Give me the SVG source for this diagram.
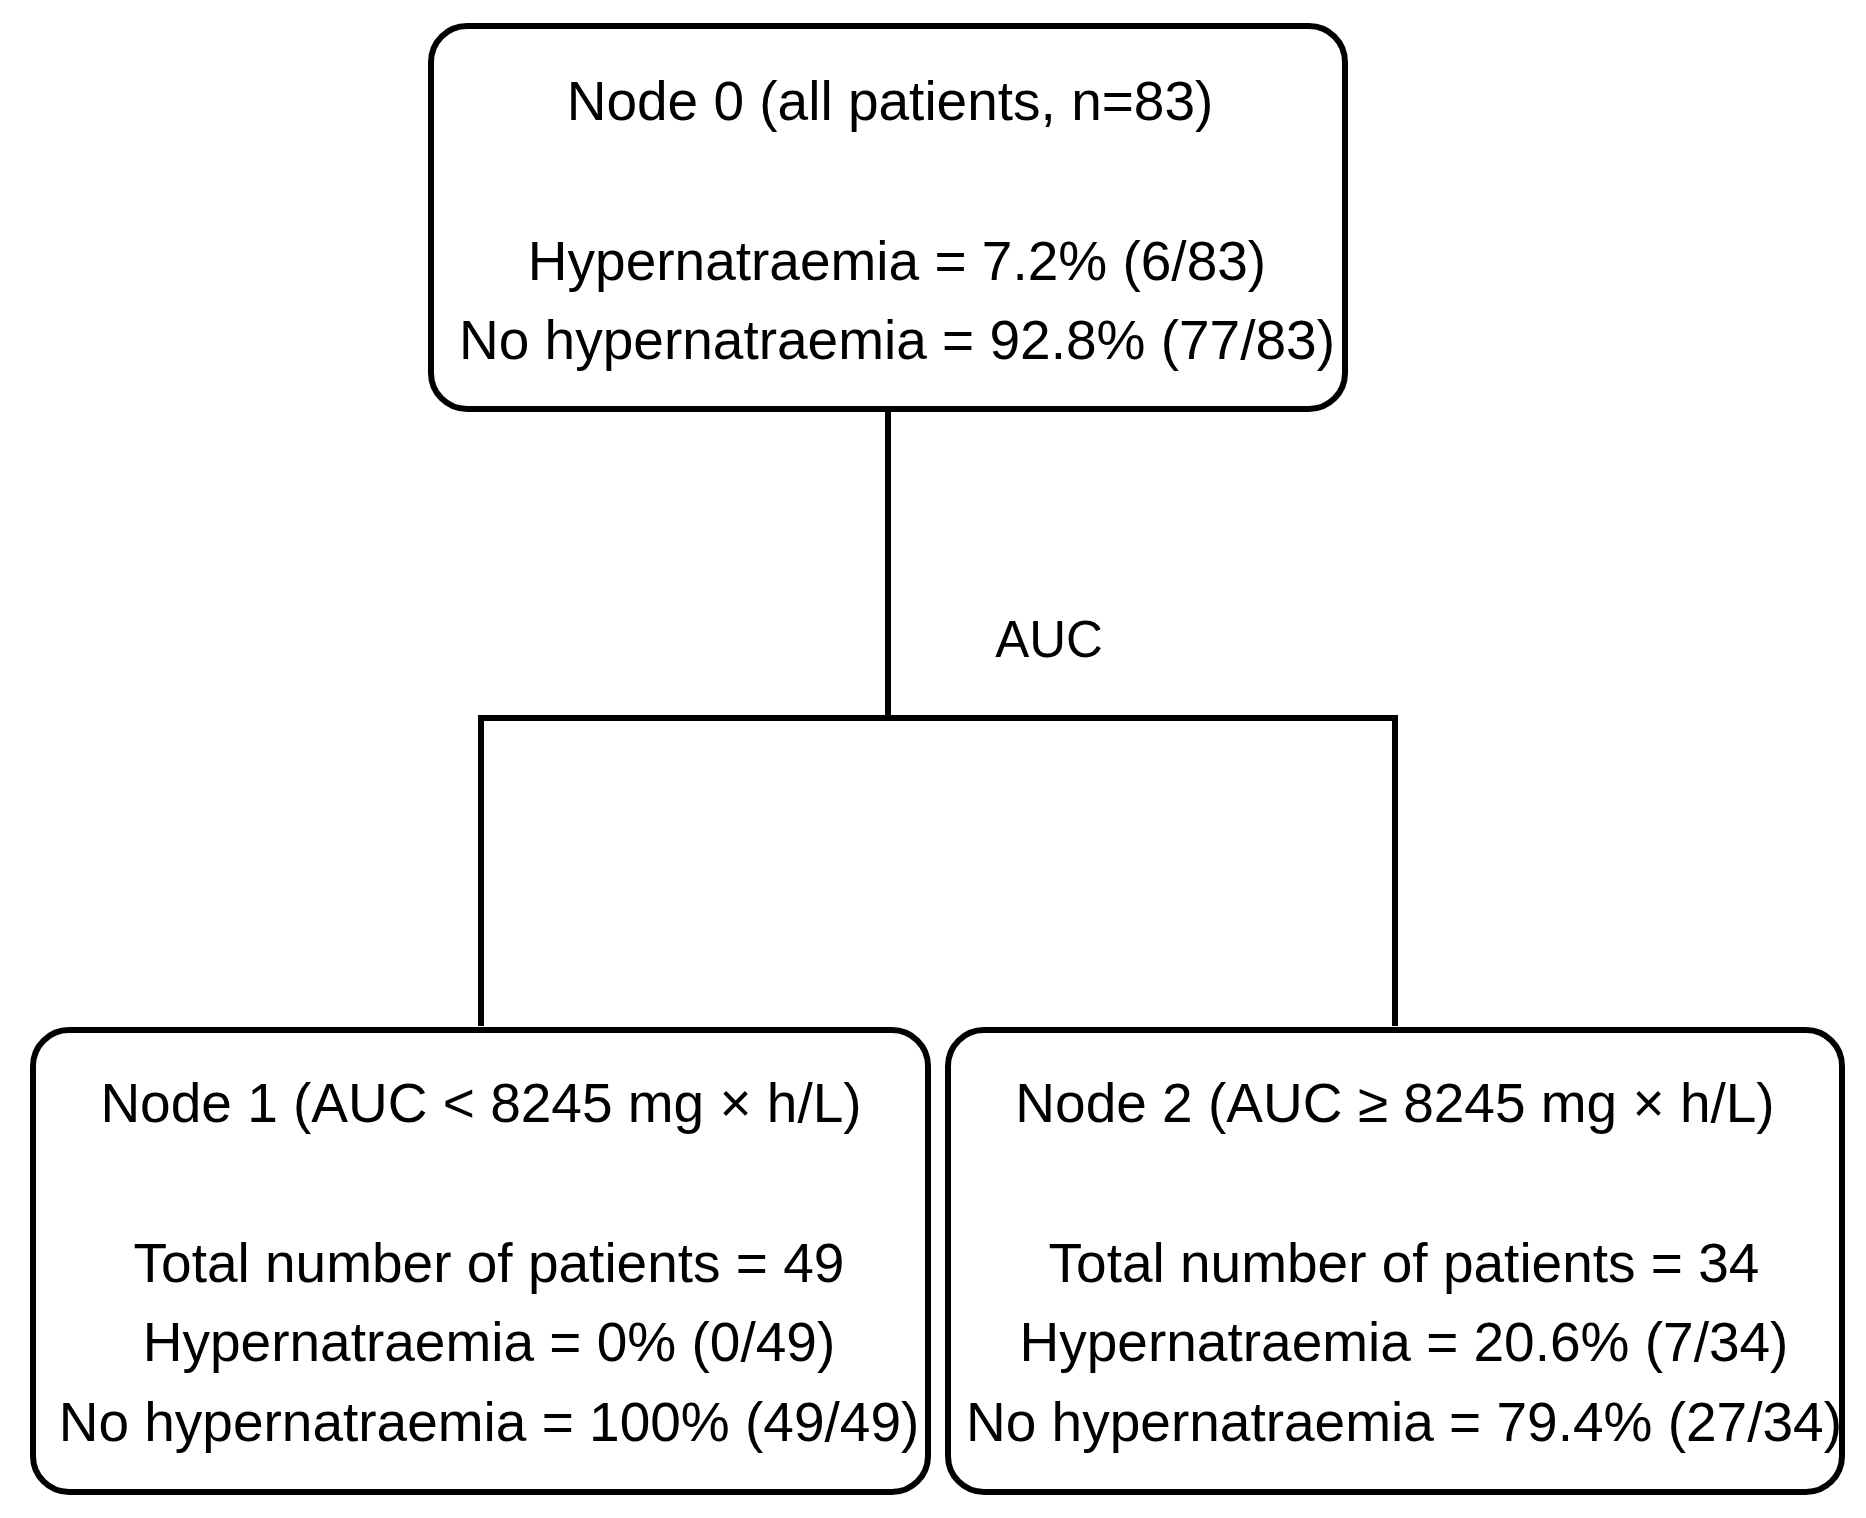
<svg xmlns="http://www.w3.org/2000/svg" width="1866" height="1518" viewBox="0 0 1866 1518">
<style>
.box{fill:#fff;stroke:#000;stroke-width:6}
.ln{fill:none;stroke:#000;stroke-width:6}
text{font-family:"Liberation Sans",Arial,sans-serif;font-size:55px;fill:#000;text-anchor:middle}
</style>
<rect width="1866" height="1518" fill="#fff"/>
<g id="connectors">
<path class="ln" d="M888,409 V718 M481,1026 V718 H1395 V1026"/>
<text x="1049" y="657" style="font-size:51px">AUC</text>
</g>
<g id="node0">
<rect class="box" x="431" y="26" width="914" height="383" rx="36"/>
<text x="890" y="120">Node 0 (all patients, n=83)</text>
<text x="897" y="280">Hypernatraemia = 7.2% (6/83)</text>
<text x="897" y="359">No hypernatraemia = 92.8% (77/83)</text>
</g>
<g id="node1">
<rect class="box" x="33" y="1030" width="895" height="462" rx="36"/>
<text x="481" y="1122">Node 1 (AUC &lt; 8245 mg × h/L)</text>
<text x="489" y="1282">Total number of patients = 49</text>
<text x="489" y="1361">Hypernatraemia = 0% (0/49)</text>
<text x="489" y="1441">No hypernatraemia = 100% (49/49)</text>
</g>
<g id="node2">
<rect class="box" x="948" y="1030" width="894" height="462" rx="36"/>
<text x="1395" y="1122">Node 2 (AUC ≥ 8245 mg × h/L)</text>
<text x="1404" y="1282">Total number of patients = 34</text>
<text x="1404" y="1361">Hypernatraemia = 20.6% (7/34)</text>
<text x="1404" y="1441">No hypernatraemia = 79.4% (27/34)</text>
</g>
</svg>
